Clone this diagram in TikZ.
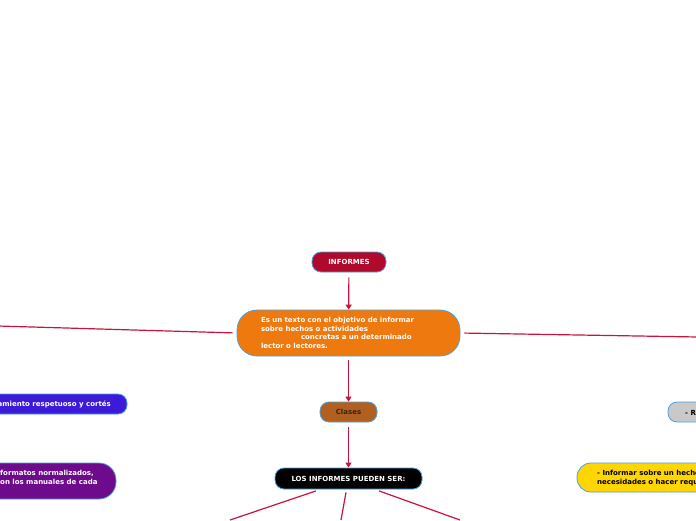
\documentclass[tikz,border=0pt]{standalone}
\usepackage{fontspec}
\setmainfont{DejaVu Sans}
\usetikzlibrary{arrows.meta,calc}
\definecolor{lnk}{HTML}{C8143C}
\definecolor{bord}{HTML}{4AA0E0}
\definecolor{crim}{HTML}{B0092B}
\definecolor{orng}{HTML}{EE7A0F}
\definecolor{brwn}{HTML}{B2601F}
\definecolor{brtx}{HTML}{3A2410}
\definecolor{blv}{HTML}{3B1AD9}
\definecolor{purp}{HTML}{6E0A8C}
\definecolor{gry}{HTML}{C9C9C9}
\definecolor{ylw}{HTML}{FFD600}
\tikzset{
  pill/.style={draw=bord, line width=0.8pt, rectangle, inner sep=0pt,
    font=\bfseries\fontsize{7}{8.5}\selectfont},
  txt/.style={inner sep=0pt, font=\bfseries\fontsize{7}{8.5}\selectfont, align=left},
  conn/.style={draw=lnk, line width=1.2pt},
  arr/.style={conn, -{Triangle[width=6pt,length=5pt]}}
}
\begin{document}
\begin{tikzpicture}[x=1pt,y=-1pt]
\useasboundingbox (0,0) rectangle (696,520);
\clip (0,0) rectangle (696,520);

% main nodes
\node[pill, fill=crim, text=white, minimum width=74pt, minimum height=20pt, rounded corners=9pt] (inf) at (349,262) {INFORMES};
\node[pill, fill=orng, text=white, minimum width=223pt, minimum height=46pt, rounded corners=20pt,
      text width=175pt, inner xsep=24pt, align=left] (def) at (348.5,333)
  {Es un texto con el objetivo de informar\\sobre hechos o actividades\\\hspace*{40pt}concretas a un determinado\\lector o lectores.};
\node[pill, fill=brwn, text=brtx, minimum width=57pt, minimum height=20pt, rounded corners=9pt] (cla) at (348.5,412) {Clases};
\node[pill, fill=black, text=white, minimum width=147pt, minimum height=21pt, rounded corners=9pt] (los) at (348.5,478.5) {LOS INFORMES PUEDEN SER:};

% partially visible nodes
\node[pill, fill=blv, minimum width=207pt, minimum height=20pt, rounded corners=9pt] (tra) at (23.5,404) {};
\node[txt, text=white, anchor=east] (tratx) at (111,404.5) {amiento respetuoso y cortés};
\node[pill, fill=purp, minimum width=216pt, minimum height=36pt, rounded corners=17pt] (frm) at (8,481) {};
\node[txt, text=white, anchor=west] (frmtx) at (0,477.5) {formatos normalizados,\\on los manuales de cada};
\node[pill, fill=gry, minimum width=120pt, minimum height=20pt, rounded corners=9pt] (rr) at (728,412) {};
\node[txt, text=black, anchor=west] (rrtx) at (685,412.5) {- R};
\node[pill, fill=ylw, minimum width=220pt, minimum height=29pt, rounded corners=14pt] (inh) at (687,477.5) {};
\node[txt, text=black, anchor=west] (inhtx) at (597,478) {- Informar sobre un hecho\\necesidades o hacer requ};

% off-canvas ends
\coordinate (lend) at (-2,326);
\coordinate (rend) at (698,337);
\coordinate (d1) at (230,520);
\coordinate (d2) at (341,520);
\coordinate (d3) at (460,520);

% connectors
\draw[arr, shorten <=5pt] (inf) -- (def);
\draw[arr, shorten <=4pt] (def) -- (cla);
\draw[arr, shorten <=5pt] (cla) -- (los);
\draw[conn, shorten <=4pt] (def.west) -- (lend);
\draw[conn, shorten <=4pt] (def.east) -- (rend);
\draw[conn] ([xshift=-32.5pt,yshift=-1.5pt]los.south) -- (d1);
\draw[conn] ([xshift=-2.5pt,yshift=-3pt]los.south) -- (d2);
\draw[conn] ([xshift=30.5pt,yshift=-1.5pt]los.south) -- (d3);
\end{tikzpicture}
\end{document}
